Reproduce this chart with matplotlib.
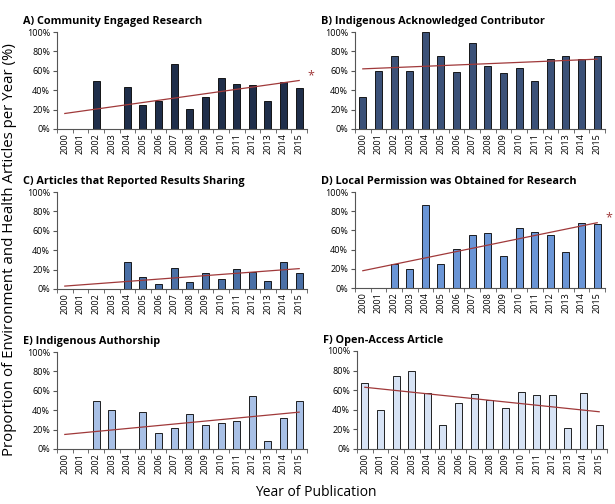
import matplotlib
matplotlib.use('Agg')
import matplotlib.pyplot as plt
import numpy as np

years = [str(y) for y in range(2000, 2016)]

titles = ['A) Community Engaged Research',
          'B) Indigenous Acknowledged Contributor',
          'C) Articles that Reported Results Sharing',
          'D) Local Permission was Obtained for Research',
          'E) Indigenous Authorship',
          'F) Open-Access Article']

vals_a = [0, 0, 50, 0, 43, 25, 29, 67, 21, 33, 53, 46, 45, 29, 48, 42]
vals_b = [33, 60, 75, 60, 100, 75, 59, 89, 65, 58, 63, 50, 72, 75, 72, 75]
vals_c = [0, 0, 0, 0, 28, 12, 5, 22, 7, 16, 10, 21, 18, 8, 28, 16]
vals_d = [0, 0, 25, 20, 86, 25, 41, 55, 57, 33, 63, 58, 55, 38, 68, 67]
vals_e = [0, 0, 50, 40, 0, 38, 17, 22, 36, 25, 27, 29, 55, 8, 32, 50]
vals_f = [67, 40, 75, 80, 57, 25, 47, 56, 50, 42, 58, 55, 55, 21, 57, 25]

# trend line values at 2000 and 2015
trend_a = [16, 50]
trend_b = [62, 72]
trend_c = [3, 21]
trend_d = [18, 68]
trend_e = [15, 38]
trend_f = [63, 38]

significant = [True, False, False, True, False, False]

colors = ['#1f2e4a', '#3b5178', '#4a6fa5', '#6a95d6', '#a8c0e6', '#d7e3f5']
trend_color = '#a0393a'

all_vals = [vals_a, vals_b, vals_c, vals_d, vals_e, vals_f]
all_trends = [trend_a, trend_b, trend_c, trend_d, trend_e, trend_f]

plt.rcParams['font.family'] = ['Open Sans', 'DejaVu Sans']

fig = plt.figure(figsize=(6.15, 5.04), dpi=100)
W, H = 615, 504

# axes boxes in pixels: left, top(100%), right, bottom(0%)
boxes = [(57, 32, 307, 129), (355, 32, 605, 129),
         (57, 192, 307, 289), (355, 192, 605, 288),
         (57, 352, 307, 449), (357, 351, 607, 449)]

x = np.arange(len(years))
for i in range(6):
    l, t, r, b = boxes[i]
    ax = fig.add_axes([l / W, 1 - b / H, (r - l) / W, (b - t) / H])
    ax.bar(x, all_vals[i], width=0.45, color=colors[i], edgecolor='black', linewidth=0.6)
    ax.plot([x[0], x[-1]], all_trends[i], color=trend_color, linewidth=0.9)
    ax.set_xlim(-0.5, len(years) - 0.5)
    ax.set_ylim(0, 100)
    ax.set_yticks(range(0, 101, 20))
    ax.set_yticklabels(['%d%%' % v for v in range(0, 101, 20)], fontsize=6.5)
    ax.set_xticks(x)
    ax.set_xticklabels(years, rotation=90, fontsize=6.5)
    ax.set_xticks(np.arange(-0.5, len(years)), minor=True)
    ax.tick_params(axis='x', which='major', length=0, pad=3)
    ax.tick_params(axis='x', which='minor', length=3, direction='out', color='#555555')
    ax.tick_params(axis='y', length=3, direction='out', color='#555555', pad=2)
    for s in ['top', 'right']:
        ax.spines[s].set_visible(False)
    for s in ['left', 'bottom']:
        ax.spines[s].set_color('#555555')
        ax.spines[s].set_linewidth(0.8)
    ax.set_title(titles[i], fontsize=7.8, fontweight='bold', loc='left',
                 x=-0.135, pad=6)
    if significant[i]:
        ax.text(x[-1] + 0.5, all_trends[i][1] + 5, '*', color=trend_color,
                fontsize=9, ha='left', va='center', clip_on=False)

fig.text(10 / W, 1 - 250 / H, 'Proportion of Environment and Health Articles per Year (%)',
         rotation=90, ha='center', va='center', fontsize=10.8)
fig.text(316 / W, 1 - 492 / H, 'Year of Publication', ha='center', va='center', fontsize=10)

plt.savefig('out.png', dpi=100)
